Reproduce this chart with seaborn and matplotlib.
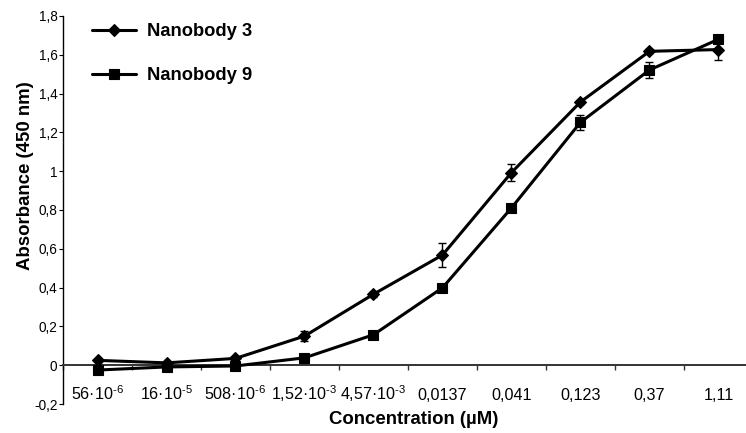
import numpy as np
import pandas as pd
import matplotlib
matplotlib.use("Agg")
import matplotlib.pyplot as plt
from matplotlib.ticker import FixedLocator, FuncFormatter
import seaborn as sns

# Concentration series (µM), one category per dilution step
concentrations = ["56·10$^{‐6}$", "16·10$^{‐5}$", "508·10$^{‐6}$", "1,52·10$^{‐3}$",
                  "4,57·10$^{‐3}$", "0,0137", "0,041", "0,123", "0,37", "1,11"]

# Absorbance at 450 nm (mean) and error
nb3_mean = [0.025, 0.012, 0.035, 0.150, 0.366, 0.568, 0.993, 1.357, 1.618, 1.627]
nb3_err = [0.008, 0.006, 0.008, 0.026, 0.012, 0.062, 0.046, 0.012, 0.010, 0.055]
nb9_mean = [-0.025, -0.009, -0.004, 0.038, 0.157, 0.399, 0.811, 1.252, 1.522, 1.680]
nb9_err = [0.005, 0.005, 0.005, 0.006, 0.008, 0.008, 0.010, 0.040, 0.040, 0.010]

series_names = ["Nanobody 3", "Nanobody 9"]
y_ticks = [-0.2, 0.0, 0.2, 0.4, 0.6, 0.8, 1.0, 1.2, 1.4, 1.6, 1.8]

sns.set_style("white")
plt.rcParams["font.family"] = ["Liberation Sans", "DejaVu Sans"]
plt.rcParams["mathtext.fontset"] = "custom"
plt.rcParams["mathtext.rm"] = "Liberation Sans"
plt.rcParams["mathtext.it"] = "Liberation Sans:italic"
plt.rcParams["mathtext.bf"] = "Liberation Sans:bold"
plt.rcParams["mathtext.default"] = "regular"
for key in ("text.color", "axes.labelcolor", "xtick.color", "ytick.color"):
    plt.rcParams[key] = "black"

pos = np.arange(len(concentrations))
df = pd.DataFrame({
    "pos": np.concatenate([pos, pos]),
    "absorbance": nb3_mean + nb9_mean,
    "err": nb3_err + nb9_err,
    "series": [series_names[0]] * len(pos) + [series_names[1]] * len(pos),
})

fig = plt.figure(figsize=(7.46, 4.33), dpi=100)
ax = fig.add_axes([63 / 746, 1 - 404 / 433, 690 / 746, 388 / 433])

styles = {series_names[0]: dict(marker="D", markersize=6.4),
          series_names[1]: dict(marker="s", markersize=7.4)}

for name in series_names:
    sub = df[df["series"] == name]
    ax.errorbar(sub["pos"], sub["absorbance"], yerr=sub["err"], fmt="none",
                ecolor="black", elinewidth=1.0, capsize=2.8, capthick=1.0, zorder=2)
    sns.lineplot(data=sub, x="pos", y="absorbance", ax=ax, color="black",
                 linewidth=2.2, markeredgecolor="black", markeredgewidth=0.8,
                 label=name, legend=False, zorder=3, **styles[name])

ax.set_xlim(-0.5, len(concentrations) - 0.5)
ax.set_ylim(-0.2, 1.8)

# Spines: left axis plus a horizontal axis running through zero
for side in ("top", "right"):
    ax.spines[side].set_visible(False)
ax.spines["left"].set_color("black")
ax.spines["left"].set_linewidth(1.0)
ax.spines["bottom"].set_position(("data", 0))
ax.spines["bottom"].set_color("#333333")
ax.spines["bottom"].set_linewidth(1.4)

ax.set_yticks(y_ticks)
ax.yaxis.set_major_formatter(FuncFormatter(
    lambda v, _: ("%g" % round(v, 1)).replace(".", ",")))
ax.tick_params(axis="y", direction="out", length=3, width=0.8, pad=1,
               labelsize=9.8, left=True, color="black")

ax.set_xticks(pos)
ax.set_xticklabels(concentrations)
ax.xaxis.set_minor_locator(FixedLocator(np.arange(-0.5, len(concentrations), 1.0)))
ax.tick_params(axis="x", which="major", length=0, pad=25, labelsize=11.6)
ax.tick_params(axis="x", which="minor", direction="out", length=3.5, width=1.0,
               bottom=True, color="#333333")
for lab in ax.get_xticklabels():
    lab.set_verticalalignment("baseline")

ax.set_xlabel("Concentration (µM)", fontsize=13.4, fontweight="bold")
ax.xaxis.set_label_coords((414 - 63) / 690, (404 - 420) / 388)
ax.xaxis.label.set_verticalalignment("center")
ax.set_ylabel("Absorbance (450 nm)", fontsize=13.4, fontweight="bold")
ax.yaxis.set_label_coords((26 - 63) / 690, (404 - 176) / 388)
ax.yaxis.label.set_verticalalignment("center")

leg = ax.legend(loc="upper left", bbox_to_anchor=((92 - 63) / 690, (404 - 23) / 388),
                frameon=False, prop={"weight": "bold", "size": 13.2},
                handlelength=2.4, handletextpad=0.62, labelspacing=1.5,
                borderpad=0, borderaxespad=0)

fig.savefig("out.png", dpi=100, facecolor="white")
